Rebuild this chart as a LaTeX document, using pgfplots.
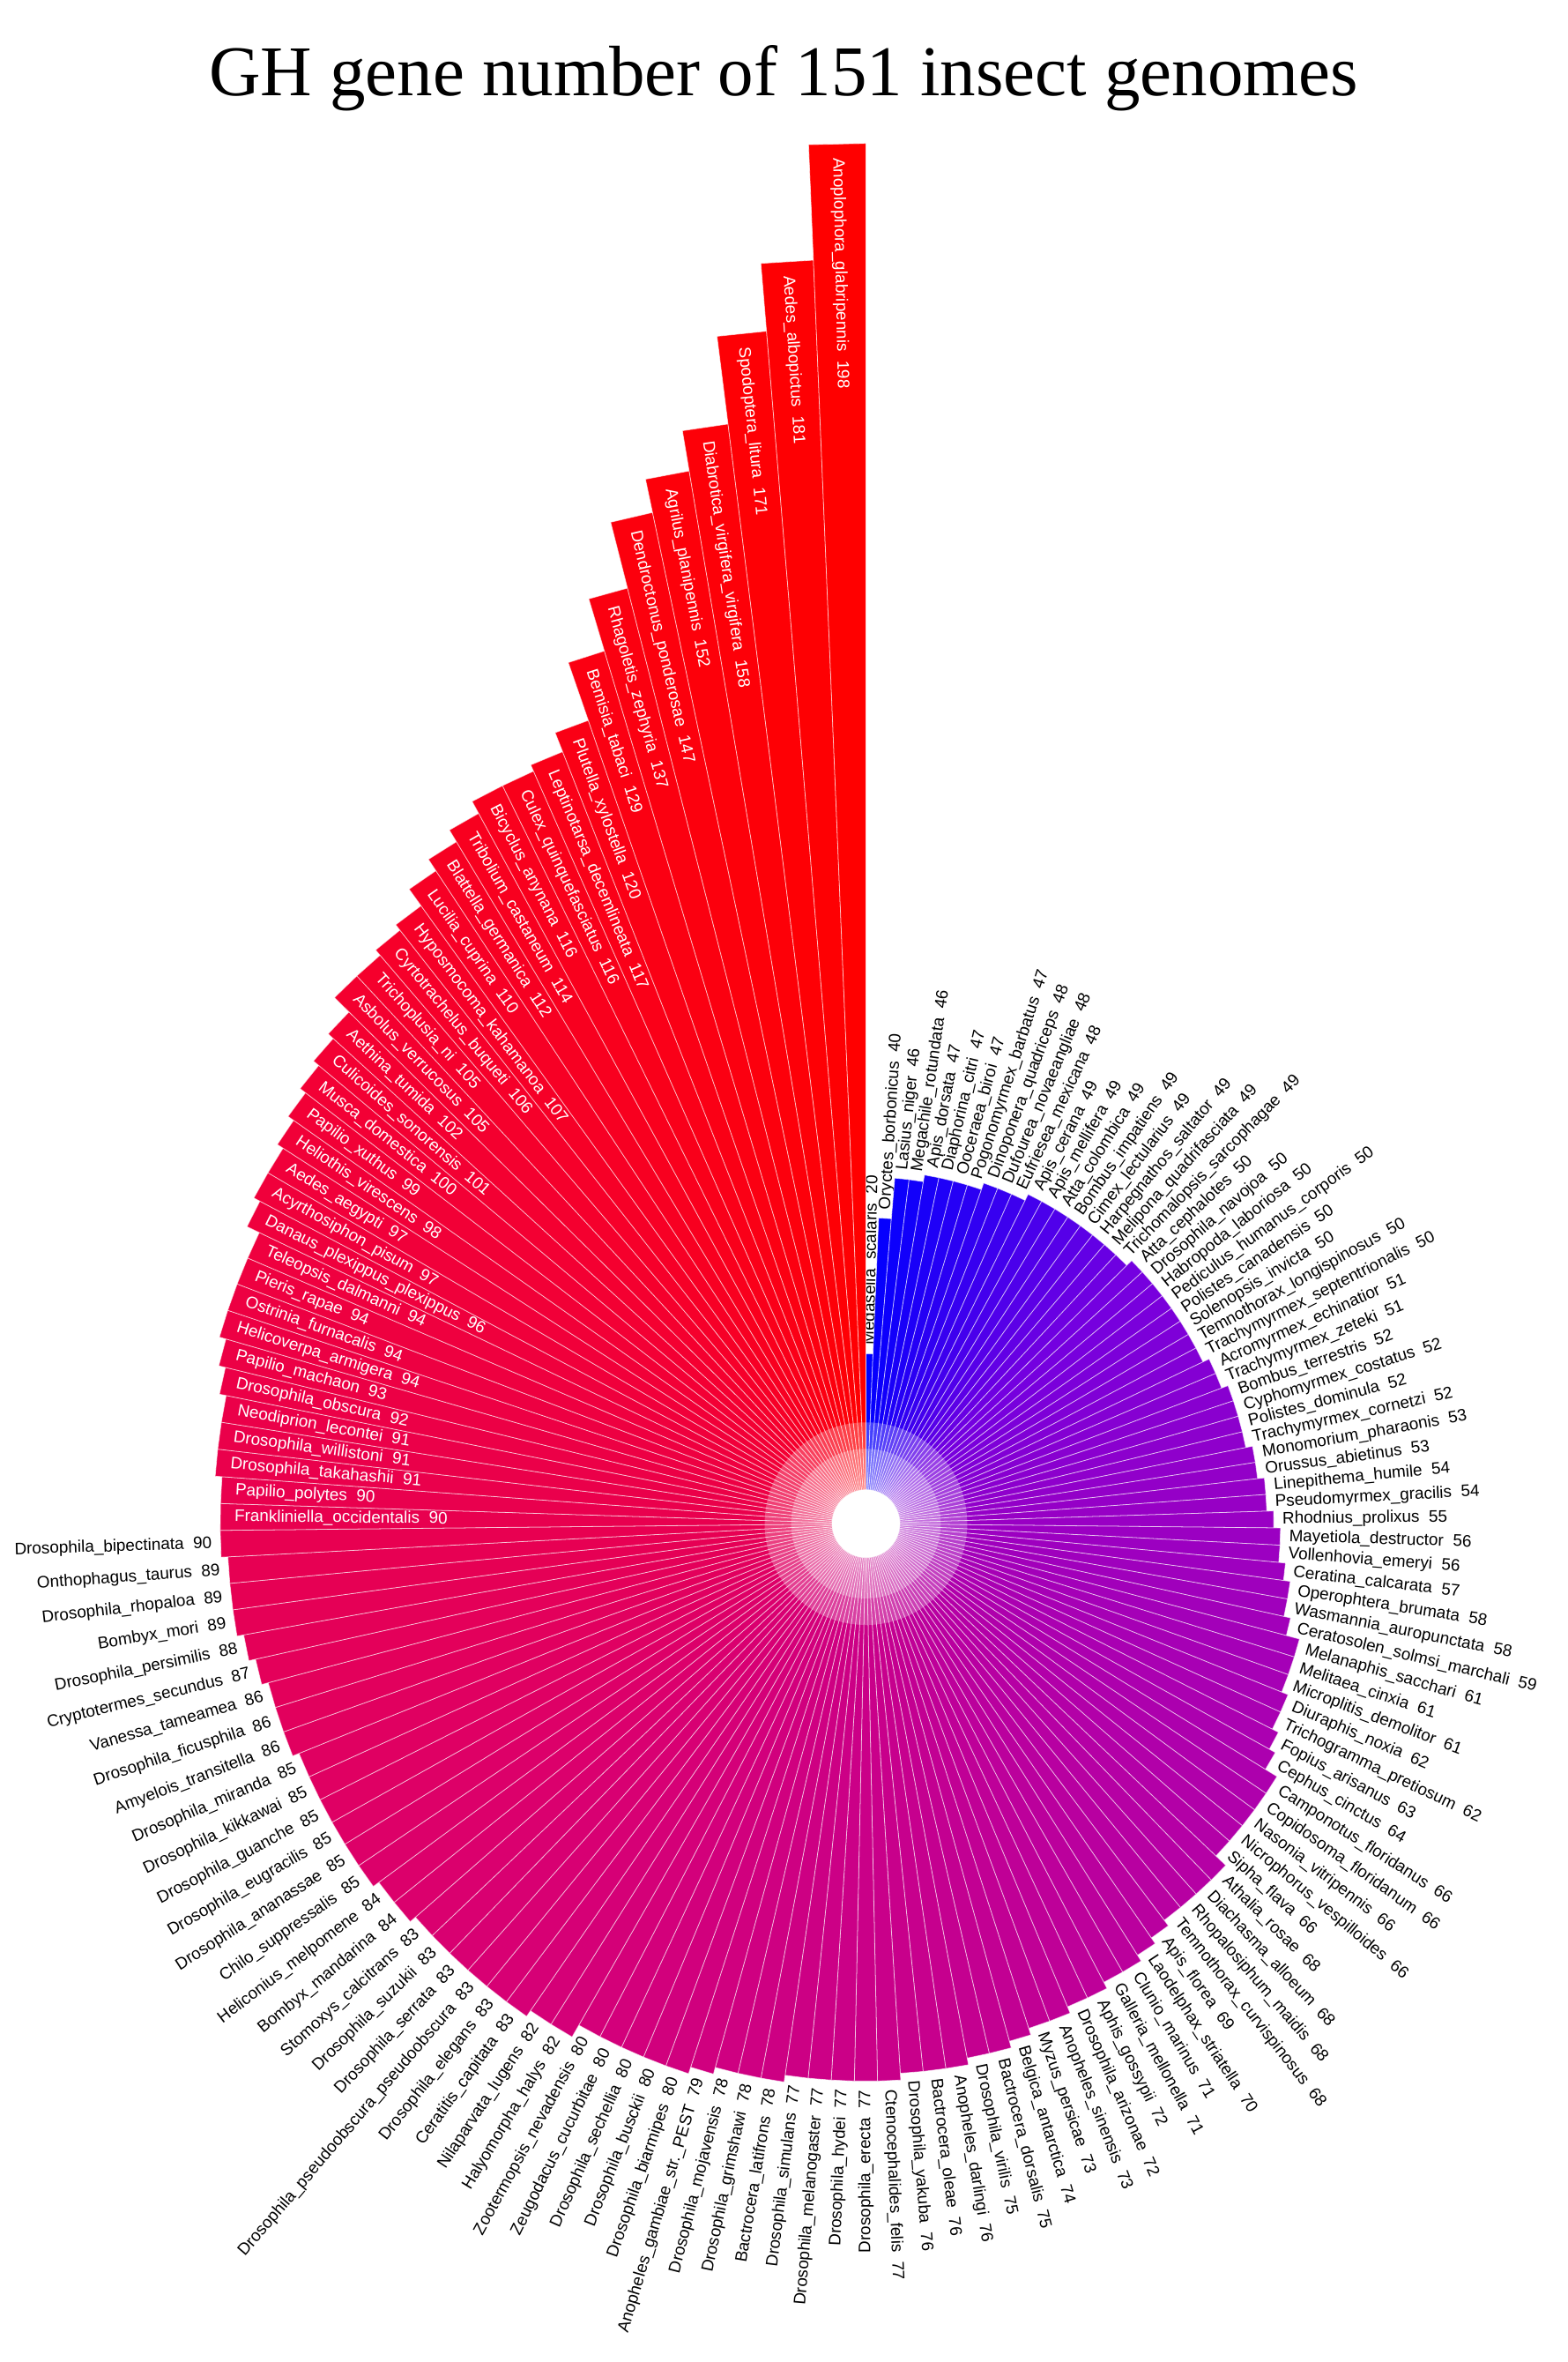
\documentclass[border=0pt]{standalone}
\usepackage{pgfplots}
\pgfplotsset{compat=1.18}
\usepackage{pgfplotstable}
\usepackage{fontspec}
\setmainfont{Liberation Sans}
\newfontfamily\titlefont{Liberation Serif}
\def\Rarr{{0,115,154,181,202,217,232,244,255}}
\def\Barr{{255,224,195,165,136,113,80,49,0}}
\newcommand\lab{\fontsize{4.9}{5.5}\selectfont}
\begin{document}%
\catcode`\_=12 %
\pgfplotstableread{
name value
Megaselia_scalaris 20
Oryctes_borbonicus 40
Lasius_niger 46
Megachile_rotundata 46
Apis_dorsata 47
Diaphorina_citri 47
Ooceraea_biroi 47
Pogonomyrmex_barbatus 47
Dinoponera_quadriceps 48
Dufourea_novaeangliae 48
Eufriesea_mexicana 48
Apis_cerana 49
Apis_mellifera 49
Atta_colombica 49
Bombus_impatiens 49
Cimex_lectularius 49
Harpegnathos_saltator 49
Melipona_quadrifasciata 49
Trichomalopsis_sarcophagae 49
Atta_cephalotes 50
Drosophila_navojoa 50
Habropoda_laboriosa 50
Pediculus_humanus_corporis 50
Polistes_canadensis 50
Solenopsis_invicta 50
Temnothorax_longispinosus 50
Trachymyrmex_septentrionalis 50
Acromyrmex_echinatior 51
Trachymyrmex_zeteki 51
Bombus_terrestris 52
Cyphomyrmex_costatus 52
Polistes_dominula 52
Trachymyrmex_cornetzi 52
Monomorium_pharaonis 53
Orussus_abietinus 53
Linepithema_humile 54
Pseudomyrmex_gracilis 54
Rhodnius_prolixus 55
Mayetiola_destructor 56
Vollenhovia_emeryi 56
Ceratina_calcarata 57
Operophtera_brumata 58
Wasmannia_auropunctata 58
Ceratosolen_solmsi_marchali 59
Melanaphis_sacchari 61
Melitaea_cinxia 61
Microplitis_demolitor 61
Diuraphis_noxia 62
Trichogramma_pretiosum 62
Fopius_arisanus 63
Cephus_cinctus 64
Camponotus_floridanus 66
Copidosoma_floridanum 66
Nasonia_vitripennis 66
Nicrophorus_vespilloides 66
Sipha_flava 66
Athalia_rosae 68
Diachasma_alloeum 68
Rhopalosiphum_maidis 68
Temnothorax_curvispinosus 68
Apis_florea 69
Laodelphax_striatella 70
Clunio_marinus 71
Galleria_mellonella 71
Aphis_gossypii 72
Drosophila_arizonae 72
Anopheles_sinensis 73
Myzus_persicae 73
Belgica_antarctica 74
Bactrocera_dorsalis 75
Drosophila_virilis 75
Anopheles_darlingi 76
Bactrocera_oleae 76
Drosophila_yakuba 76
Ctenocephalides_felis 77
Drosophila_erecta 77
Drosophila_hydei 77
Drosophila_melanogaster 77
Drosophila_simulans 77
Bactrocera_latifrons 78
Drosophila_grimshawi 78
Drosophila_mojavensis 78
Anopheles_gambiae_str._PEST 79
Drosophila_biarmipes 80
Drosophila_busckii 80
Drosophila_sechellia 80
Zeugodacus_cucurbitae 80
Zootermopsis_nevadensis 80
Halyomorpha_halys 82
Nilaparvata_lugens 82
Ceratitis_capitata 83
Drosophila_elegans 83
Drosophila_pseudoobscura_pseudoobscura 83
Drosophila_serrata 83
Drosophila_suzukii 83
Stomoxys_calcitrans 83
Bombyx_mandarina 84
Heliconius_melpomene 84
Chilo_suppressalis 85
Drosophila_ananassae 85
Drosophila_eugracilis 85
Drosophila_guanche 85
Drosophila_kikkawai 85
Drosophila_miranda 85
Amyelois_transitella 86
Drosophila_ficusphila 86
Vanessa_tameamea 86
Cryptotermes_secundus 87
Drosophila_persimilis 88
Bombyx_mori 89
Drosophila_rhopaloa 89
Onthophagus_taurus 89
Drosophila_bipectinata 90
Frankliniella_occidentalis 90
Papilio_polytes 90
Drosophila_takahashii 91
Drosophila_willistoni 91
Neodiprion_lecontei 91
Drosophila_obscura 92
Papilio_machaon 93
Helicoverpa_armigera 94
Ostrinia_furnacalis 94
Pieris_rapae 94
Teleopsis_dalmanni 94
Danaus_plexippus_plexippus 96
Acyrthosiphon_pisum 97
Aedes_aegypti 97
Heliothis_virescens 98
Papilio_xuthus 99
Musca_domestica 100
Culicoides_sonorensis 101
Aethina_tumida 102
Asbolus_verrucosus 105
Trichoplusia_ni 105
Cyrtotrachelus_buqueti 106
Hyposmocoma_kahamanoa 107
Lucilia_cuprina 110
Blattella_germanica 112
Tribolium_castaneum 114
Bicyclus_anynana 116
Culex_quinquefasciatus 116
Leptinotarsa_decemlineata 117
Plutella_xylostella 120
Bemisia_tabaci 129
Rhagoletis_zephyria 137
Dendroctonus_ponderosae 147
Agrilus_planipennis 152
Diabrotica_virgifera_virgifera 158
Spodoptera_litura 171
Aedes_albopictus 181
Anoplophora_glabripennis 198
}\gh%
\begin{tikzpicture}
\begin{axis}[hide axis, x=2pt, y=2pt,
  xmin=-127.4, xmax=103.2, ymin=-123.3, ymax=224.1,
  clip=false, enlargelimits=false]
\pgfplotsforeachungrouped \i in {0,...,150}{%
  \pgfplotstablegetelem{\i}{value}\of\gh \let\gv\pgfplotsretval
  \pgfplotstablegetelem{\i}{name}\of\gh \let\nm\pgfplotsretval
  \pgfmathsetmacro\ta{90-\i*2.38410596}%
  \pgfmathsetmacro\tb{90-(\i+1)*2.38410596}%
  \pgfmathsetmacro\tm{90-(\i+0.5)*2.38410596}%
  \pgfmathsetmacro\rr{5+\gv}%
  \pgfmathsetmacro\tq{\i/150*8}%
  \pgfmathtruncatemacro\kk{min(floor(\tq),7)}%
  \pgfmathsetmacro\ff{\tq-\kk}%
  \pgfmathtruncatemacro\cR{round(\Rarr[\kk]*(1-\ff)+\Rarr[\kk+1]*\ff)}%
  \pgfmathtruncatemacro\cB{round(\Barr[\kk]*(1-\ff)+\Barr[\kk+1]*\ff)}%
  \edef\cmd{\noexpand\addplot[fill={rgb,255:red,\cR;green,0;blue,\cB}, draw=white, draw opacity=0.6, line width=0.2pt, data cs=polar] coordinates {(\ta,5) (\ta,\rr) (\tb,\rr) (\tb,5) (\ta,5)};}%
  \cmd
  \ifnum\i<113
    \pgfmathsetmacro\rl{\rr+1.2}%
    \ifnum\i<75
      \let\rot\tm \def\anc{west}%
    \else
      \pgfmathsetmacro\rot{\tm+180}\def\anc{east}%
    \fi
    \def\tcol{black}%
  \else
    \pgfmathsetmacro\rl{\rr-2}%
    \pgfmathsetmacro\rot{\tm+180}\def\anc{west}\def\tcol{white}%
  \fi
  \pgfmathsetmacro\lx{\rl*cos(\tm)}%
  \pgfmathsetmacro\ly{\rl*sin(\tm)}%
  \edef\cmd{\noexpand\node[rotate=\rot, anchor=\anc, inner sep=0pt, text=\tcol, font=\noexpand\lab] at (axis cs:\lx,\ly) {\nm\noexpand\hspace{0.556em}\gv};}%
  \cmd
}
\fill[white, opacity=0.25] (axis cs:0,0) circle[radius=14.9];
\fill[white, opacity=0.25] (axis cs:0,0) circle[radius=11];
\fill[white] (axis cs:0,0) circle[radius=4.95];
\node[font=\titlefont\fontsize{21}{25}\selectfont, anchor=base] at (axis cs:-12.1,210) {GH gene number of 151 insect genomes};
\end{axis}
\pgfresetboundingbox
\path[use as bounding box] (current axis.south west) rectangle (current axis.north east);
\end{tikzpicture}%
\end{document}
